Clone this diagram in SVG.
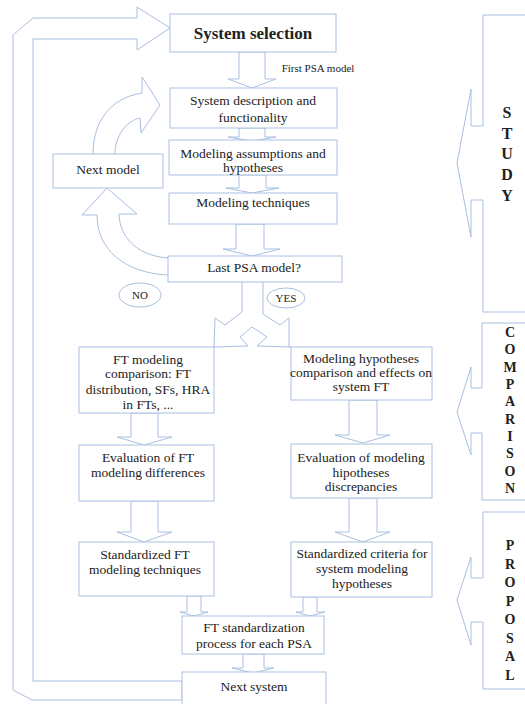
<svg xmlns="http://www.w3.org/2000/svg" width="525" height="704" viewBox="0 0 525 704">
<style>
.b{fill:#fff;stroke:#a9bfe0;stroke-width:1}
.l{fill:none;stroke:#a9bfe0;stroke-width:1}
.a{fill:#fff;stroke:#a9bfe0;stroke-width:1}
text{font-family:"Liberation Serif","Times New Roman",serif;fill:#222;text-anchor:middle}
.t{font-size:13.5px}
.s{font-size:11px}
.k{font-weight:bold}
</style>
<rect width="525" height="704" fill="#fff"/>
<g id="connectors">
<polygon class="l" points="182,700 32,700 13,690 13,35 33,18 137,18 137,7 170,28 137,50 137,39 33,39 33,681 182,681"/>
<polygon class="a" points="239,52 239,79 228,79 252,88 276,79 265,79 265,52"/>
<polygon class="a" points="239,128 239,137 228,137 252,141 276,137 265,137 265,128"/>
<polygon class="a" points="239,175 239,188 226,188 252,193 279,188 266,188 266,175"/>
<polygon class="a" points="236,224 236,249 223,249 252,256 280,249 264,249 264,224"/>
<path class="l" d="M93,154 C93,122 110,98 142,93 L142,77 L160,105 L141,133 L140,118 C126,121 115,136 115,154"/>
<path class="l" d="M168,275 C125,273 97,250 97,215 L82,215 L107,188 L137,214 L119,214 C120,240 140,256 168,258"/>
<polyline class="l" points="242,282 242,312 225,325 215,318 214,347"/>
<polyline class="l" points="263,282 263,314 280,325 289,318 289,347"/>
<polyline class="l" points="214,347 248,346 240,337 252,327 267,337 257,346 291,347"/>
<polygon class="a" points="131,413 131,437 117,437 144,445 172,437 158,437 158,413"/>
<polygon class="a" points="131,501 131,532 117,532 144,542 172,532 158,532 158,501"/>
<polygon class="a" points="349,400 349,435 335,435 363,443 390,435 377,435 377,400"/>
<polygon class="a" points="349,498 349,532 335,532 363,542 390,532 377,532 377,498"/>
<polygon class="a" points="187,596 187,612 180,612 194,616 208,612 201,612 201,596"/>
<polygon class="a" points="303,597 303,612 296,612 310,616 325,612 317,612 317,597"/>
<polygon class="a" points="243,654 243,668 232,668 253,673 274,668 264,668 264,654"/>
<polyline class="l" points="525,15 483,15 483,126 471,126 471,89 457,163 471,237 471,200 483,200 483,312 525,312"/>
<polyline class="l" points="525,323 482,323 482,388 471,388 471,367 457,412 471,455 471,433 482,433 482,500 525,500"/>
<polyline class="l" points="525,512 483,512 483,578 471,578 471,557 457,600 471,645 471,622 483,622 483,689 525,689"/>
</g>
<g id="system-selection"><rect class="b" x="170" y="14" width="166" height="38"/><text class="k" x="253" y="39" font-size="17">System selection</text></g>
<g id="first-psa-label"><text class="s" x="318" y="72">First PSA model</text></g>
<g id="system-description"><rect class="b" x="170" y="88" width="167" height="40"/><text class="t" x="253" y="104.5">System description and</text><text class="t" x="253" y="121.5">functionality</text></g>
<g id="modeling-assumptions"><rect class="b" x="169" y="140" width="168" height="35"/><text class="t" x="253" y="157.5">Modeling assumptions and</text><text class="t" x="253" y="171.5">hypotheses</text></g>
<g id="modeling-techniques"><rect class="b" x="169" y="193" width="168" height="31"/><text class="t" x="253" y="206.5">Modeling techniques</text></g>
<g id="last-psa"><rect class="b" x="168" y="256" width="174" height="26"/><text class="t" x="254" y="271.5">Last PSA model?</text></g>
<g id="next-model"><rect class="b" x="53" y="154" width="110" height="34"/><text class="t" x="108" y="173.5">Next model</text></g>
<g id="no"><ellipse class="b" cx="140" cy="295" rx="21" ry="12"/><text class="s" x="140" y="299">NO</text></g>
<g id="yes"><ellipse class="b" cx="286" cy="298" rx="19" ry="10"/><text class="s" x="286" y="302">YES</text></g>
<g id="ft-comparison"><rect class="b" x="79" y="347" width="135" height="66"/><text class="t" x="148" y="363.5">FT modeling</text><text class="t" x="148" y="377.5">comparison: FT</text><text class="t" x="148" y="393.5">distribution, SFs, HRA</text><text class="t" x="148" y="408.5">in FTs, ...</text></g>
<g id="hyp-comparison"><rect class="b" x="291" y="347" width="141" height="53"/><text class="t" x="361" y="362.5">Modeling hypotheses</text><text class="t" x="361" y="376.5">comparison and effects on</text><text class="t" x="361" y="390.5">system FT</text></g>
<g id="eval-ft"><rect class="b" x="79" y="445" width="135" height="56"/><text class="t" x="148" y="461.5">Evaluation of FT</text><text class="t" x="148" y="476.5">modeling differences</text></g>
<g id="eval-hyp"><rect class="b" x="291" y="444" width="141" height="54"/><text class="t" x="361" y="461.5">Evaluation of modeling</text><text class="t" x="361" y="476.5">hipotheses</text><text class="t" x="361" y="490.5">discrepancies</text></g>
<g id="std-ft"><rect class="b" x="79" y="542" width="135" height="54"/><text class="t" x="145" y="558.5">Standardized FT</text><text class="t" x="145" y="573.5">modeling techniques</text></g>
<g id="std-criteria"><rect class="b" x="291" y="542" width="141" height="55"/><text class="t" x="362" y="557.5">Standardized criteria for</text><text class="t" x="362" y="572.5">system modeling</text><text class="t" x="362" y="587.5">hypotheses</text></g>
<g id="ft-standardization"><rect class="b" x="182" y="616" width="142" height="38"/><text class="t" x="254" y="631.5">FT standardization</text><text class="t" x="254" y="647.5">process for each PSA</text></g>
<g id="next-system"><rect class="b" x="182" y="672" width="144" height="40"/><text class="t" x="254" y="690.5">Next system</text></g>
<g id="study" class="k" font-size="16"><text x="507" y="117.5">S</text><text x="507" y="138.5">T</text><text x="507" y="158.5">U</text><text x="507" y="179.5">D</text><text x="507" y="200.5">Y</text></g>
<g id="comparison" class="k" font-size="14"><text x="510" y="337">C</text><text x="510" y="354.3">O</text><text x="510" y="371.7">M</text><text x="510" y="389">P</text><text x="510" y="406.3">A</text><text x="510" y="423.7">R</text><text x="510" y="441">I</text><text x="510" y="458.3">S</text><text x="510" y="475.7">O</text><text x="510" y="493">N</text></g>
<g id="proposal" class="k" font-size="14"><text x="510" y="550">P</text><text x="510" y="568.6">R</text><text x="510" y="587.1">O</text><text x="510" y="605.7">P</text><text x="510" y="624.3">O</text><text x="510" y="642.9">S</text><text x="510" y="661.4">A</text><text x="510" y="680">L</text></g>
</svg>
